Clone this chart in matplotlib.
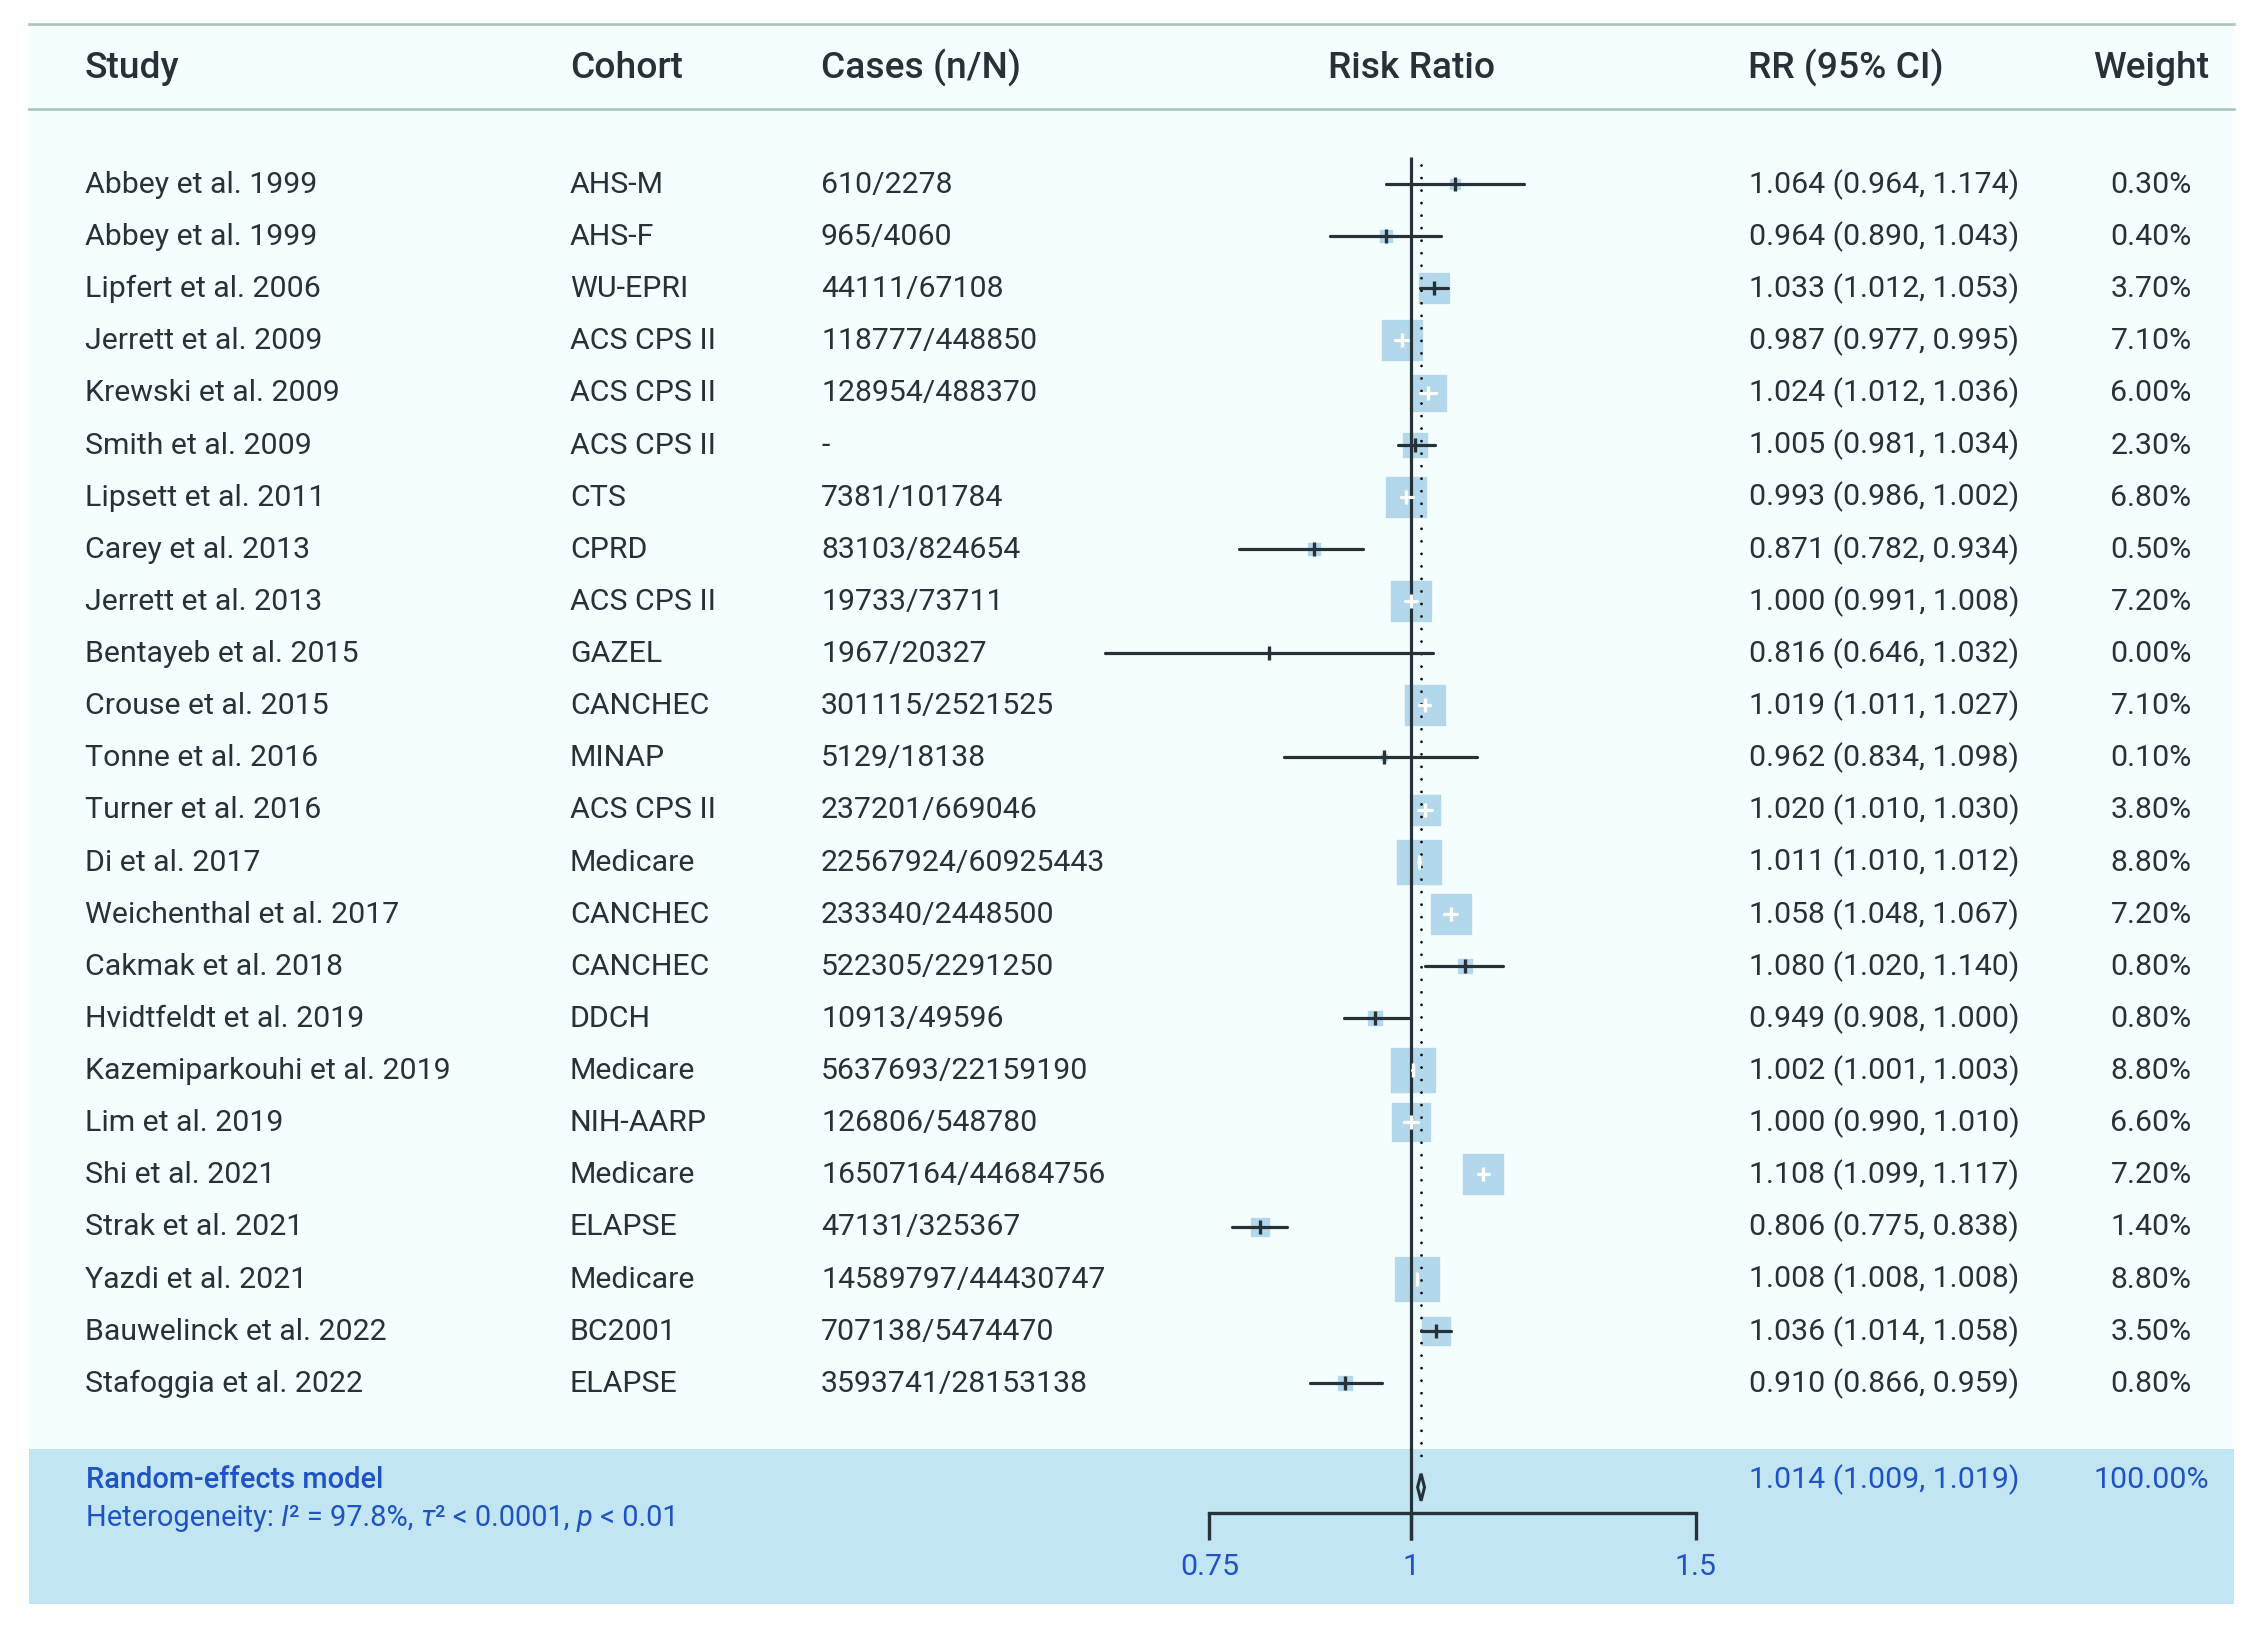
import matplotlib
matplotlib.use("Agg")
import matplotlib.pyplot as plt
from matplotlib.transforms import blended_transform_factory
from matplotlib.patches import Polygon
import numpy as np

# study table
studies = ["Abbey et al. 1999", "Abbey et al. 1999", "Lipfert et al. 2006", "Jerrett et al. 2009",
           "Krewski et al. 2009", "Smith et al. 2009", "Lipsett et al. 2011", "Carey et al. 2013",
           "Jerrett et al. 2013", "Bentayeb et al. 2015", "Crouse et al. 2015", "Tonne et al. 2016",
           "Turner et al. 2016", "Di et al. 2017", "Weichenthal et al. 2017", "Cakmak et al. 2018",
           "Hvidtfeldt et al. 2019", "Kazemiparkouhi et al. 2019", "Lim et al. 2019", "Shi et al. 2021",
           "Strak et al. 2021", "Yazdi et al. 2021", "Bauwelinck et al. 2022", "Stafoggia et al. 2022"]
cohorts = ["AHS-M", "AHS-F", "WU-EPRI", "ACS CPS II", "ACS CPS II", "ACS CPS II", "CTS", "CPRD",
           "ACS CPS II", "GAZEL", "CANCHEC", "MINAP", "ACS CPS II", "Medicare", "CANCHEC", "CANCHEC",
           "DDCH", "Medicare", "NIH-AARP", "Medicare", "ELAPSE", "Medicare", "BC2001", "ELAPSE"]
cases = ["610/2278", "965/4060", "44111/67108", "118777/448850", "128954/488370", "-",
         "7381/101784", "83103/824654", "19733/73711", "1967/20327", "301115/2521525", "5129/18138",
         "237201/669046", "22567924/60925443", "233340/2448500", "522305/2291250", "10913/49596",
         "5637693/22159190", "126806/548780", "16507164/44684756", "47131/325367",
         "14589797/44430747", "707138/5474470", "3593741/28153138"]
rr = [1.064, 0.964, 1.033, 0.987, 1.024, 1.005, 0.993, 0.871, 1.000, 0.816, 1.019, 0.962,
      1.020, 1.011, 1.058, 1.080, 0.949, 1.002, 1.000, 1.108, 0.806, 1.008, 1.036, 0.910]
rr_lo = [0.964, 0.890, 1.012, 0.977, 1.012, 0.981, 0.986, 0.782, 0.991, 0.646, 1.011, 0.834,
         1.010, 1.010, 1.048, 1.020, 0.908, 1.001, 0.990, 1.099, 0.775, 1.008, 1.014, 0.866]
rr_hi = [1.174, 1.043, 1.053, 0.995, 1.036, 1.034, 1.002, 0.934, 1.008, 1.032, 1.027, 1.098,
         1.030, 1.012, 1.067, 1.140, 1.000, 1.003, 1.010, 1.117, 0.838, 1.008, 1.058, 0.959]
weights = [0.30, 0.40, 3.70, 7.10, 6.00, 2.30, 6.80, 0.50, 7.20, 0.00, 7.10, 0.10,
           3.80, 8.80, 7.20, 0.80, 0.80, 8.80, 6.60, 7.20, 1.40, 8.80, 3.50, 0.80]

# random-effects summary
pooled = 1.014
pooled_lo = 1.009
pooled_hi = 1.019
pooled_weight = 100.00
# (text, italic?) pieces of the heterogeneity line
hetero_parts = [("Heterogeneity: ", False), ("I", True), ("\u00b2 = 97.8%, ", False), ("\u03c4", True),
                ("\u00b2 < 0.0001, ", False), ("p", True), (" < 0.01", False)]
axis_ticks = [0.75, 1, 1.5]
tick_labels = ["0.75", "1", "1.5"]

# colours
DARK = "#263238"
BLUE = "#1f52c4"
BG = "#f4fefe"
BAND = "#c1e5f2"
BOX = "#b3d8eb"
RULE = "#a9c5bd"

plt.rcParams['font.family'] = ['Roboto', 'DejaVu Sans']

W, H = 2254, 1630
FS = 21.8
HFS = 26.7
SFS = 20.9

fig = plt.figure(figsize=(W / 100, H / 100), dpi=100, facecolor="white")
ax = fig.add_axes([0, 0, 1, 1])
ax.set_xscale("log")
ax.set_xlim(0.1339, 3.322)
ax.set_ylim(27.738, -3.530)
ax.axis("off")

tr = blended_transform_factory(ax.transAxes, ax.transData)
def col(px):
    return px / W

left, right = col(29), col(2234)
# table background, header rules and summary band
ax.axhspan(-3.07, 24.27, xmin=left, xmax=right, color=BG, lw=0, zorder=0)
ax.axhspan(24.27, 27.24, xmin=left, xmax=right, color=BAND, lw=0, zorder=0)
for yy in (-3.07, -1.44):
    ax.axhline(yy, xmin=left, xmax=right, color=RULE, lw=1.9, zorder=1)

# header
hy = -2.03
hkw = dict(fontsize=HFS, fontweight="medium", color=DARK, va="baseline")
ax.text(col(85), hy, "Study", transform=tr, **hkw)
ax.text(col(570), hy, "Cohort", transform=tr, **hkw)
ax.text(col(821), hy, "Cases (n/N)", transform=tr, **hkw)
ax.text(1, hy, "Risk Ratio", ha="center", **hkw)
ax.text(col(1748), hy, "RR (95% CI)", transform=tr, **hkw)
ax.text(col(2209), hy, "Weight", transform=tr, ha="right", **hkw)

rows = np.arange(len(studies))
base = 0.17
for i in rows:
    y = i + base
    ax.text(col(85), y, studies[i], transform=tr, fontsize=FS, color=DARK, va="baseline")
    ax.text(col(570), y, cohorts[i], transform=tr, fontsize=FS, color=DARK, va="baseline")
    ax.text(col(821), y, cases[i], transform=tr, fontsize=FS, color=DARK, va="baseline")
    ax.text(col(1749), y, f"{rr[i]:.3f} ({rr_lo[i]:.3f}, {rr_hi[i]:.3f})", transform=tr,
            fontsize=FS, color=DARK, va="baseline")
    ax.text(col(2151), y, f"{weights[i]:.2f}%", transform=tr, fontsize=FS, color=DARK,
            va="baseline", ha="center")

pr = len(studies) + 1
ax.text(col(86), pr + 0.02, "Random-effects model", transform=tr, fontsize=SFS, fontweight="medium",
        color=BLUE, va="baseline")
ax.text(col(1749), pr + 0.02, f"{pooled:.3f} ({pooled_lo:.3f}, {pooled_hi:.3f})", transform=tr,
        fontsize=FS, color=BLUE, va="baseline")
ax.text(col(2151), pr + 0.02, f"{pooled_weight:.2f}%", transform=tr, fontsize=FS, color=BLUE,
        va="baseline", ha="center")

# heterogeneity line, pieces chained one after another
prev = None
for txt, ital in hetero_parts:
    style = "italic" if ital else "normal"
    if prev is None:
        prev = ax.text(col(86), pr + 0.74, txt, transform=tr, fontsize=SFS, color=BLUE,
                       va="baseline", fontstyle=style)
    else:
        prev = ax.annotate(txt, xy=(1, 0), xycoords=prev, fontsize=SFS, color=BLUE,
                           va="bottom", ha="left", fontstyle=style)

# boxes: side ~ sqrt(weight), drawn under the reference lines
core = 10.25 * np.sqrt(weights)
for i in rows:
    ax.plot(rr[i], i, marker="s", ms=core[i], mew=2.4, mfc=BOX, mec=BOX, ls="none", zorder=2)

# reference line at 1 and dotted pooled line
ax.plot([1, 1], [-0.52, 26.01], color=DARK, lw=2.3, zorder=3, solid_capstyle="butt")
ax.plot([pooled, pooled], [-0.36, 24.57], color="black", lw=2.0, zorder=3,
        ls=(0, (0.01, 4.5)), dash_capstyle="round")

# confidence intervals; white when the interval sits inside its box
for i in rows:
    x0 = ax.transData.transform((rr_lo[i], i))[0]
    x1 = ax.transData.transform((rr_hi[i], i))[0]
    inside = (x1 - x0) <= core[i] * 100 / 72
    c = "white" if inside else DARK
    ax.plot([rr_lo[i], rr_hi[i]], [i, i], color=c, lw=2.3, zorder=4, solid_capstyle="round")
    ax.plot(rr[i], i, marker="|", ms=9.5, mew=2.4, color=c, zorder=4)

# summary diamond
dh = 0.26
diamond = Polygon([(pooled_lo, pr), (pooled, pr - dh), (pooled_hi, pr), (pooled, pr + dh)],
                  closed=True, facecolor=BAND, edgecolor=DARK, lw=2.2, zorder=4)
ax.add_patch(diamond)

# x axis
ay, tb = 25.49, 26.01
ax.plot([axis_ticks[0], axis_ticks[-1]], [ay, ay], color=DARK, lw=2.4, zorder=3, solid_capstyle="projecting")
for t, lab in zip(axis_ticks, tick_labels):
    ax.plot([t, t], [ay, tb], color=DARK, lw=2.4, zorder=3, solid_capstyle="butt")
    ax.text(t, 26.68, lab, fontsize=FS, color=BLUE, ha="center", va="baseline")

fig.savefig("out.png", dpi=100, facecolor="white")
